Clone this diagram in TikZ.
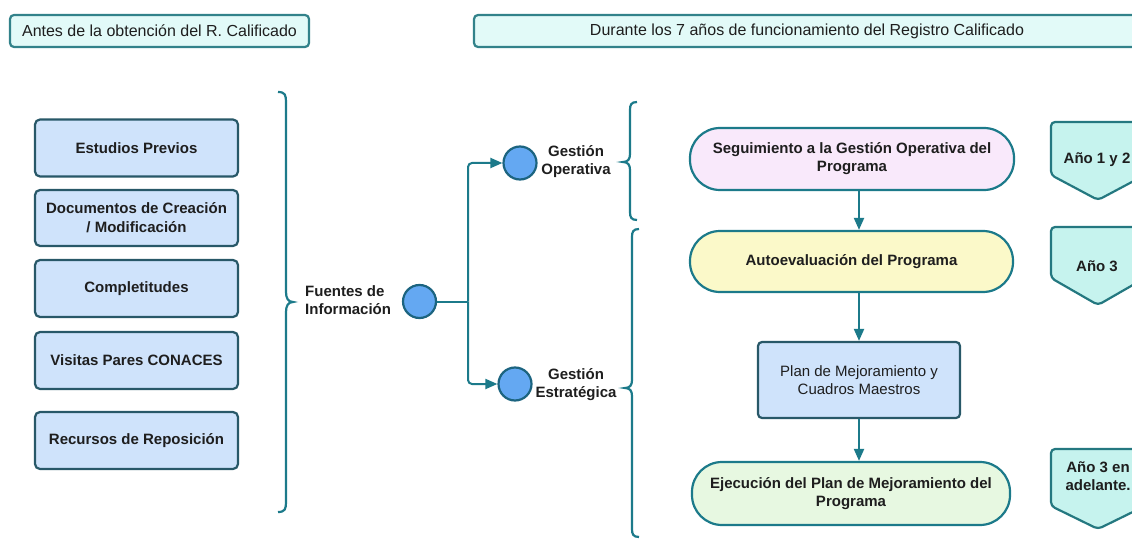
\documentclass[tikz,border=0pt]{standalone}
\usepackage{fontspec}
\setmainfont{Liberation Sans}
\usetikzlibrary{arrows.meta}
\definecolor{tealL}{RGB}{28,122,138}
\definecolor{hdrfill}{RGB}{226,250,248}
\definecolor{hdrline}{RGB}{50,130,138}
\definecolor{lboxfill}{RGB}{207,227,251}
\definecolor{lboxline}{RGB}{40,88,104}
\definecolor{circfill}{RGB}{100,168,242}
\definecolor{circline}{RGB}{28,100,128}
\definecolor{pentfill}{RGB}{198,243,238}
\definecolor{pentline}{RGB}{36,120,128}
\definecolor{segfill}{RGB}{249,233,251}
\definecolor{autofill}{RGB}{251,249,201}
\definecolor{ejefill}{RGB}{231,248,225}
\definecolor{txt}{RGB}{30,30,30}
\begin{document}
\begin{tikzpicture}[x=1pt,y=-1pt,
  hdr/.style={draw=hdrline, fill=hdrfill, line width=2.2pt, rounded corners=4pt, minimum height=32pt, inner sep=0pt, text=txt, font=\fontsize{16}{19}\selectfont},
  lbox/.style={draw=lboxline, fill=lboxfill, line width=2.2pt, rounded corners=5pt, minimum width=203pt, minimum height=57pt, inner sep=0pt, align=center, text=txt, font=\bfseries\fontsize{15}{19}\selectfont},
  circ/.style={circle, draw=circline, fill=circfill, line width=2.2pt, minimum size=33pt, inner sep=0pt},
  lbl/.style={align=center, text=txt, inner sep=0pt, font=\bfseries\fontsize{15}{18}\selectfont},
  stad/.style={draw=tealL, line width=2.2pt, rounded corners=30pt, minimum height=62pt, inner sep=0pt, align=center, text=txt, font=\bfseries\fontsize{15}{18}\selectfont},
  planbox/.style={draw=lboxline, fill=lboxfill, line width=2.2pt, rounded corners=4pt, minimum width=202pt, minimum height=76pt, inner sep=0pt, align=center, text=txt, font=\fontsize{15}{18}\selectfont},
  link/.style={draw=tealL, line width=2pt, rounded corners=4pt},
  conn/.style={link, -{Triangle[length=12pt,width=10pt]}},
  brc/.style={draw=tealL, line width=2.2pt},
  pent/.style={draw=pentline, fill=pentfill, line width=2.2pt, rounded corners=4pt}
]
\useasboundingbox (0,0) rectangle (1132,540);
\clip (0,0) rectangle (1132,540);
\fill[white] (0,0) rectangle (1132,540);

% headers
\node[hdr, minimum width=299pt] (hA) at (159.5,31) {Antes de la obtención del R. Calificado};
\node[hdr, minimum width=666pt] (hD) at (807,31) {Durante los 7 años de funcionamiento del Registro Calificado};

% left boxes
\node[lbox] (ep) at (136.5,148) {Estudios Previos};
\node[lbox, minimum height=56pt] (dc) at (136.5,218) {Documentos de Creación\\/ Modificación};
\node[lbox] (co) at (136.5,288.5) {Completitudes};
\node[lbox] (vp) at (136.5,360.5) {Visitas Pares CONACES};
\node[lbox] (rr) at (136.5,440.5) {Recursos de Reposición};

% big left brace
\draw[brc] (278,92) .. controls (285,92) and (286,95) .. (286,102) -- (286,292)
  .. controls (286,298) and (288,302) .. (293,302)
  .. controls (288,302) and (286,306) .. (286,312) -- (286,502)
  .. controls (286,509) and (285,512) .. (278,512);

% fuentes
\node[lbl, align=left, anchor=west] (fl) at (305,300.5) {Fuentes de\\Información};
\node[circ] (F) at (419.5,301.5) {};
\node[circ] (GO) at (520,163) {};
\node[circ] (GE) at (515,384) {};
\coordinate (jn) at (468,301.5);
\draw[link] (F.east) -- (jn);
\draw[conn] (jn) |- (GO.west);
\draw[conn] (jn) |- (GE.west);

\node[lbl] (gol) at (576,162) {Gestión\\Operativa};
\node[lbl] (gel) at (576,385) {Gestión\\Estratégica};

% braces right
\draw[brc] (637,102) .. controls (631,102) and (630,105) .. (630,110) -- (630,154)
  .. controls (630,159) and (628,162) .. (623,162)
  .. controls (628,162) and (630,165) .. (630,170) -- (630,212)
  .. controls (630,217) and (631,220) .. (637,220);
\draw[brc] (639,229) .. controls (633,229) and (632,232) .. (632,237) -- (632,380)
  .. controls (632,385) and (630,388) .. (625,388)
  .. controls (630,388) and (632,391) .. (632,396) -- (632,529)
  .. controls (632,534) and (633,537) .. (639,537);

% flow
\node[stad, fill=segfill, minimum width=324pt] (seg) at (852,159) {Seguimiento a la Gestión Operativa del\\Programa};
\node[stad, fill=autofill, minimum width=323pt, minimum height=61pt] (auto) at (851.5,261.5) {Autoevaluación del Programa};
\node[planbox] (plan) at (859,380) {Plan de Mejoramiento y\\Cuadros Maestros};
\node[stad, fill=ejefill, minimum width=318pt, minimum height=63pt] (eje) at (851,493.5) {Ejecución del Plan de Mejoramiento del\\Programa};

\draw[conn] (seg.south -| plan.center) -- (auto.north -| plan.center);
\draw[conn] (auto.south -| plan.center) -- (plan.north);
\draw[conn] (plan.south) -- (eje.north -| plan.center);

% pentagons
\draw[pent] (1051,122) -- (1145,122) -- (1145,175) -- (1098,200) -- (1051,175) -- cycle;
\draw[pent] (1051,227) -- (1145,227) -- (1145,278) -- (1098,305) -- (1051,278) -- cycle;
\draw[pent] (1051,449) -- (1145,449) -- (1145,506) -- (1098,529) -- (1051,506) -- cycle;
\node[lbl] (p1) at (1097,160) {Año 1 y 2};
\node[lbl] (p2) at (1097,266) {Año 3};
\node[lbl] (p3) at (1098,476.5) {Año 3 en\\adelante.};
\end{tikzpicture}
\end{document}
